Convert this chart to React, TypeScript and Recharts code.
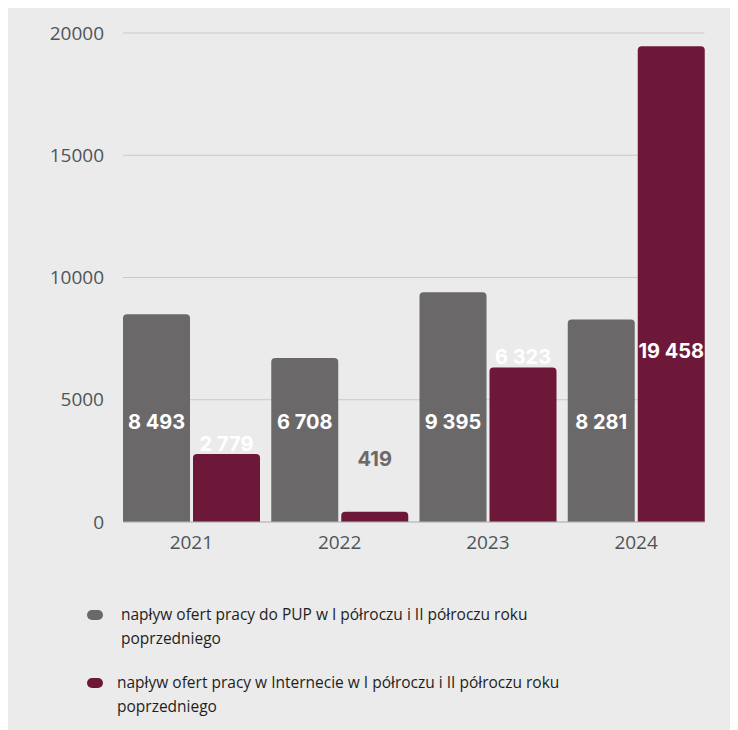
import React from "react";
import { Bar, BarChart, CartesianGrid, LabelList, XAxis, YAxis } from "recharts";

const years = ["2021", "2022", "2023", "2024"];
const pupOffers = [8493, 6708, 9395, 8281];
const internetOffers = [2779, 419, 6323, 19458];
const yTicks = [0, 5000, 10000, 15000, 20000];
const seriesNames = [
  "napływ ofert pracy do PUP w I półroczu i II półroczu roku poprzedniego",
  "napływ ofert pracy w Internecie w I półroczu i II półroczu roku poprzedniego",
];

const GREY = "#6b6869";
const MAROON = "#6d1839";
const BG = "#ebebeb";

const data = years.map((year, i) => ({
  year,
  pup: pupOffers[i],
  internet: internetOffers[i],
}));

// "8493" -> "8 493"
const fmt = (v: number) =>
  v >= 1000 ? `${Math.floor(v / 1000)} ${String(v % 1000).padStart(3, "0")}` : String(v);

const labelFont = { fontFamily: "Inter, 'Noto Sans', sans-serif", fontWeight: 700, fontSize: 20 };

const PupLabel = (props: any) => {
  const { x, y, width, height, value } = props;
  return (
    <text x={x + width / 2} y={y + height - 93} textAnchor="middle" fill="#fff" {...labelFont}>
      {fmt(value)}
    </text>
  );
};

// labels of the second series sit in different places depending on the bar size
const InternetLabel = (props: any) => {
  const { x, y, width, height, value } = props;
  let ty = y - 3;
  let fill = "#fff";
  if (value < 1000) {
    ty = y - 46;
    fill = GREY;
  } else if (value > 15000) {
    ty = y + height - 164;
  }
  return (
    <text x={x + width / 2} y={ty} textAnchor="middle" fill={fill} {...labelFont}>
      {fmt(value)}
    </text>
  );
};

const tickStyle = { fill: "#4f545a", fontSize: 19, fontFamily: "'Open Sans', sans-serif" };

const Legend = () => (
  <div style={{ position: "absolute", left: 78, top: 594, fontFamily: "'Open Sans', sans-serif", fontSize: 15.5, color: "#1e1e1e" }}>
    {seriesNames.map((name, i) => (
      <div key={name} style={{ display: "flex", alignItems: "flex-start", marginBottom: i === 0 ? 20 : 0 }}>
        <div
          style={{
            width: 16,
            height: 10,
            borderRadius: 5,
            background: i === 0 ? GREY : MAROON,
            marginTop: 8,
            marginLeft: 1,
            marginRight: i === 0 ? 18 : 14,
          }}
        />
        <div style={{ width: 470, lineHeight: "24px" }}>{name}</div>
      </div>
    ))}
  </div>
);

const App = () => {
  return (
    <div style={{ position: "relative", width: 730, height: 722, background: BG }}>
      <BarChart
        width={730}
        height={560}
        data={data}
        margin={{ top: 25, right: 33.5, left: 0, bottom: 0 }}
        barCategoryGap={5.75}
        barGap={3}
      >
        <CartesianGrid vertical={false} stroke="#c9c9c9" />
        <XAxis
          dataKey="year"
          height={46}
          padding={{ left: -5.75, right: -5.75 }}
          axisLine={{ stroke: "#b4b8bc" }}
          tickLine={false}
          tick={tickStyle}
          tickMargin={8}
        />
        <YAxis
          type="number"
          width={115}
          domain={[0, 20000]}
          ticks={yTicks}
          axisLine={false}
          tickLine={false}
          tick={tickStyle}
          tickMargin={13}
        />
        <Bar dataKey="pup" fill={GREY} radius={[4, 4, 0, 0]} isAnimationActive={false}>
          <LabelList dataKey="pup" content={PupLabel} />
        </Bar>
        <Bar dataKey="internet" fill={MAROON} radius={[4, 4, 0, 0]} isAnimationActive={false}>
          <LabelList dataKey="internet" content={InternetLabel} />
        </Bar>
      </BarChart>
      <Legend />
    </div>
  );
};

export default App;
